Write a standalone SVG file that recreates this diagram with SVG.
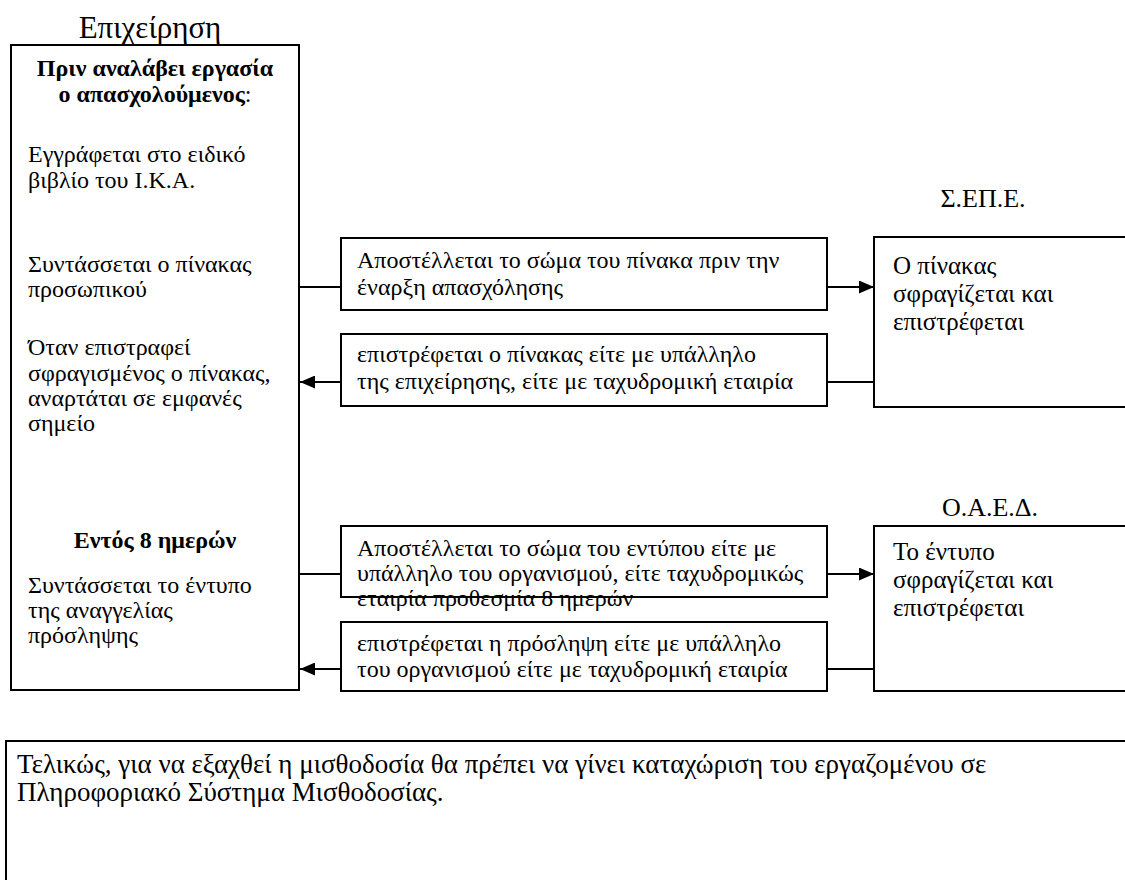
<svg xmlns="http://www.w3.org/2000/svg" width="1125" height="880" viewBox="0 0 1125 880">
<style>
.box{fill:#fff;stroke:#000;stroke-width:2}
.t{font-family:"Liberation Serif","Times New Roman",serif;font-size:24px;fill:#000}
.b{font-weight:bold}
.big{font-size:25px}
.lbl{font-size:26px}
.title{font-size:31px}
.fin{font-size:27px}
.ln{stroke:#000;stroke-width:2;fill:none}
</style>
<defs>
<marker id="ah" markerWidth="15" markerHeight="13" refX="15" refY="6.5" orient="auto" markerUnits="userSpaceOnUse">
<path d="M0,0 L15,6.5 L0,13 Z" fill="#000"/>
</marker>
</defs>
<rect width="1125" height="880" fill="#fff"/>
<g id="title">
<text class="t title" x="150" y="38" text-anchor="middle">Επιχείρηση</text>
</g>
<g id="epixeirisi">
<rect class="box" x="11" y="45" width="288" height="645"/>
<text class="t" x="155" y="76" text-anchor="middle"><tspan class="b">Πριν αναλάβει εργασία</tspan></text>
<text class="t" x="155" y="102" text-anchor="middle"><tspan class="b">ο απασχολούμενος</tspan>:</text>
<text class="t" x="28" y="162">Εγγράφεται στο ειδικό</text>
<text class="t" x="28" y="188">βιβλίο του Ι.Κ.Α.</text>
<text class="t" x="28" y="272">Συντάσσεται ο πίνακας</text>
<text class="t" x="28" y="297">προσωπικού</text>
<text class="t" x="28" y="355">Όταν επιστραφεί</text>
<text class="t" x="28" y="381">σφραγισμένος ο πίνακας,</text>
<text class="t" x="28" y="406">αναρτάται σε εμφανές</text>
<text class="t" x="28" y="431">σημείο</text>
<text class="t b" x="155" y="548" text-anchor="middle">Εντός 8 ημερών</text>
<text class="t" x="28" y="593">Συντάσσεται το έντυπο</text>
<text class="t" x="28" y="618">της αναγγελίας</text>
<text class="t" x="28" y="643">πρόσληψης</text>
</g>
<g id="connectors">
<line class="ln" x1="299" y1="287" x2="341" y2="287"/>
<line class="ln" x1="827" y1="287" x2="874" y2="287" marker-end="url(#ah)"/>
<line class="ln" x1="874" y1="382" x2="827" y2="382"/>
<line class="ln" x1="341" y1="382" x2="300" y2="382" marker-end="url(#ah)"/>
<line class="ln" x1="299" y1="574" x2="341" y2="574"/>
<line class="ln" x1="827" y1="574" x2="874" y2="574" marker-end="url(#ah)"/>
<line class="ln" x1="874" y1="669" x2="827" y2="669"/>
<line class="ln" x1="341" y1="669" x2="300" y2="669" marker-end="url(#ah)"/>
</g>
<g id="send-pinakas">
<rect class="box" x="341" y="238" width="486" height="72"/>
<text class="t" x="357" y="268">Αποστέλλεται το σώμα του πίνακα πριν την</text>
<text class="t" x="357" y="295">έναρξη  απασχόλησης</text>
</g>
<g id="return-pinakas">
<rect class="box" x="341" y="334" width="486" height="72"/>
<text class="t" x="357" y="362">επιστρέφεται  ο πίνακας είτε με υπάλληλο</text>
<text class="t" x="357" y="389">της επιχείρησης, είτε με ταχυδρομική εταιρία</text>
</g>
<g id="send-entypo">
<text class="t" x="357" y="556">Αποστέλλεται το σώμα του εντύπου είτε με</text>
<text class="t" x="357" y="581">υπάλληλο του οργανισμού, είτε ταχυδρομικώς</text>
<text class="t" x="357" y="606">εταιρία προθεσμία 8 ημερών</text>
<rect class="box" x="341" y="526" width="486" height="71" style="fill:none"/>
</g>
<g id="return-entypo">
<rect class="box" x="341" y="622" width="486" height="69"/>
<text class="t" x="357" y="651">επιστρέφεται η πρόσληψη είτε με υπάλληλο</text>
<text class="t" x="357" y="677">του οργανισμού είτε με ταχυδρομική εταιρία</text>
</g>
<g id="sepe">
<text class="t lbl" x="983" y="207" text-anchor="middle">Σ.ΕΠ.Ε.</text>
<rect class="box" x="874" y="237" width="270" height="170"/>
<text class="t big" x="893" y="274">Ο πίνακας</text>
<text class="t big" x="893" y="302">σφραγίζεται και</text>
<text class="t big" x="893" y="330">επιστρέφεται</text>
</g>
<g id="oaed">
<text class="t lbl" x="990" y="516" text-anchor="middle">Ο.Α.Ε.Δ.</text>
<rect class="box" x="874" y="526" width="270" height="165"/>
<text class="t big" x="893" y="560">Το έντυπο</text>
<text class="t big" x="893" y="588">σφραγίζεται και</text>
<text class="t big" x="893" y="616">επιστρέφεται</text>
</g>
<g id="final">
<rect class="box" x="6" y="741" width="1140" height="160"/>
<text class="t fin" x="17" y="773">Τελικώς, για να εξαχθεί η μισθοδοσία θα πρέπει να γίνει καταχώριση του εργαζομένου σε</text>
<text class="t fin" x="17" y="801">Πληροφοριακό Σύστημα Μισθοδοσίας.</text>
</g>
</svg>
